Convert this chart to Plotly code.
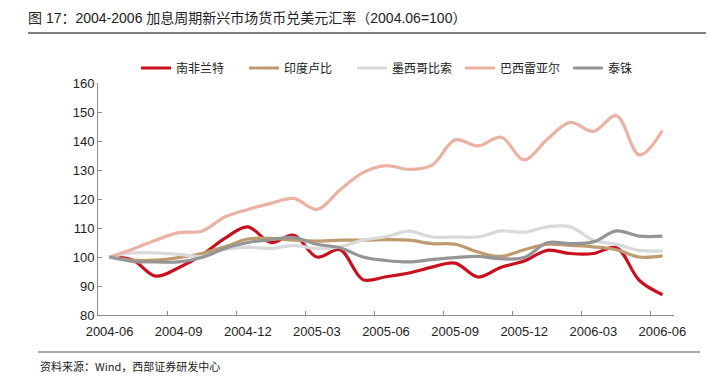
import plotly.graph_objects as go

months = ["2004-06", "2004-07", "2004-08", "2004-09", "2004-10", "2004-11", "2004-12",
          "2005-01", "2005-02", "2005-03", "2005-04", "2005-05", "2005-06", "2005-07",
          "2005-08", "2005-09", "2005-10", "2005-11", "2005-12", "2006-01", "2006-02",
          "2006-03", "2006-04", "2006-05", "2006-06"]
tick_labels = ["2004-06", "2004-09", "2004-12", "2005-03", "2005-06", "2005-09",
               "2005-12", "2006-03", "2006-06"]

zar = [100, 99.0, 93.4, 96.3, 100.6, 106.4, 110.4, 105.0, 107.5, 100.0, 102.5, 92.2, 93.2,
       94.5, 96.5, 97.9, 93.1, 96.5, 98.6, 102.3, 101.2, 101.2, 103.2, 91.9, 87.0]
inr = [100, 98.9, 98.9, 99.8, 101.2, 103.5, 106.2, 106.4, 105.8, 105.5, 105.8, 105.8, 106.0,
       105.8, 104.6, 104.4, 101.7, 100.2, 102.5, 104.4, 104.0, 103.5, 102.5, 100.0, 100.4]
mxn = [100, 101.4, 101.4, 100.9, 100.2, 102.6, 103.4, 102.9, 104.0, 102.9, 103.5, 105.8, 107.0,
       108.9, 106.9, 106.9, 106.9, 109.0, 108.5, 110.4, 110.4, 105.8, 104.4, 102.3, 102.1]
brl = [100, 102.7, 105.8, 108.4, 108.9, 113.8, 116.4, 118.5, 120.2, 116.4, 123.1, 129.1, 131.5,
       130.2, 131.7, 140.4, 138.3, 141.3, 133.5, 140.6, 146.4, 143.3, 148.7, 135.2, 143.6]
thb = [100, 98.5, 98.3, 98.3, 99.8, 102.9, 105.0, 106.0, 106.7, 104.4, 103.2, 100.0, 98.8,
       98.3, 99.1, 99.8, 100.2, 99.4, 99.8, 104.9, 104.6, 105.2, 109.0, 107.2, 107.2]

series = [
    ("南非兰特", zar, "#C8101E"),
    ("印度卢比", inr, "#BE9A6E"),
    ("墨西哥比索", mxn, "#D9D9D9"),
    ("巴西雷亚尔", brl, "#EBB2A3"),
    ("泰铢", thb, "#959595"),
]

FONT = "Liberation Sans, Arial, Noto Sans CJK SC, sans-serif"
CJK = "Noto Sans CJK SC, Liberation Sans, sans-serif"

fig = go.Figure()
for name, vals, color in series:
    fig.add_trace(go.Scatter(
        x=months, y=vals, name=name, mode="lines",
        line=dict(color=color, width=3.2, shape="spline", smoothing=1.0),
    ))

# helper axis carrying the boundary tick marks (no data)
fig.add_trace(go.Scatter(x=[], y=[], xaxis="x2", showlegend=False, hoverinfo="skip"))

# page has an 8px body margin; work in page pixels and convert
OFF = 8
W, H = 716 - OFF, 382 - OFF
PL, PR, PT, PB = 98, 674, 83, 315          # plot area in page pixels
L, T = PL - OFF, PT - OFF
R, B = W - (PR - OFF), H - (PB - OFF)
pw, ph = PR - PL, PB - PT

def px_x(px):
    return (px - PL) / pw

def px_y(py):
    return 1 - (py - PT) / ph

fig.update_layout(
    width=W, height=H,
    margin=dict(l=L, r=R, t=T, b=B, autoexpand=False),
    paper_bgcolor="white", plot_bgcolor="white",
    font=dict(family=FONT, size=13, color="#222222"),
    title=dict(
        text="图 17：2004-2006 加息周期新兴市场货币兑美元汇率（2004.06=100）",
        xref="container", yref="container",
        x=(28 - OFF) / W, y=1 - (18 - OFF) / H, xanchor="left", yanchor="middle",
        font=dict(family=FONT, size=14, color="#222222"),
    ),
    legend=dict(
        orientation="h", x=px_x(136), y=px_y(68), xanchor="left", yanchor="middle",
        font=dict(family=CJK, size=12, color="#222222"),
        entrywidth=63, entrywidthmode="pixels",
        bgcolor="rgba(0,0,0,0)",
    ),
    xaxis=dict(
        type="category", range=[-0.5, 24.5],
        tickmode="array", tickvals=tick_labels, ticktext=tick_labels,
        ticks="", showline=True, linecolor="#8c8c8c", linewidth=1,
        showgrid=False, zeroline=False, ticklabelstandoff=4,
        tickfont=dict(family=FONT, size=13, color="#222222"),
    ),
    xaxis2=dict(
        overlaying="x", anchor="y", side="bottom", type="linear",
        range=[-0.5, 24.5],
        tickmode="array", tickvals=[-0.5 + 3 * i for i in range(9)],
        ticks="inside", ticklen=4, tickcolor="#8c8c8c", tickwidth=1,
        showticklabels=False, showline=False, showgrid=False, zeroline=False,
    ),
    yaxis=dict(
        range=[80, 160], tickmode="array", tickvals=list(range(80, 161, 10)),
        ticks="inside", ticklen=4, tickcolor="#8c8c8c",
        showline=True, linecolor="#8c8c8c", linewidth=1,
        showgrid=False, zeroline=False,
        tickfont=dict(family=FONT, size=13, color="#222222"),
    ),
    shapes=[
        dict(type="line", xref="paper", yref="paper",
             x0=px_x(28), x1=px_x(706), y0=px_y(33), y1=px_y(33),
             line=dict(color="#555555", width=1.5)),
        dict(type="line", xref="paper", yref="paper",
             x0=px_x(38), x1=px_x(700), y0=px_y(352), y1=px_y(352),
             line=dict(color="#555555", width=1.2)),
    ],
    annotations=[
        dict(text="资料来源：Wind，西部证券研发中心", xref="paper", yref="paper",
             x=px_x(38), y=px_y(366), xanchor="left", yanchor="middle",
             showarrow=False, font=dict(family=CJK, size=11, color="#222222")),
    ],
)

fig.write_html("out.html")
